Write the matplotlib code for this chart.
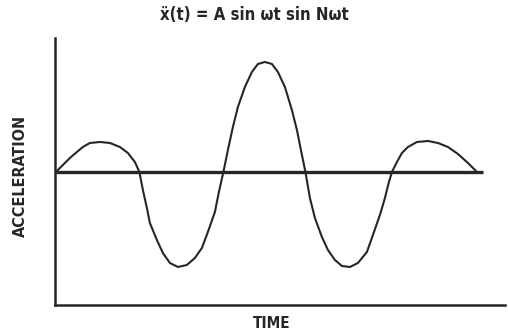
import matplotlib.pyplot as plt

# acceleration trace, time and amplitude in arbitrary units
time = [0, 7, 14, 21, 27, 34, 44, 54, 64, 72, 79, 83.5,
        87, 91, 94, 101, 107, 114, 122, 131, 139, 146, 152, 159, 163, 167.5,
        172, 177, 182, 189, 196, 202, 209, 216, 222, 229, 236, 241, 245, 249.5,
        254, 259, 266, 272, 279, 286, 294, 302, 311, 317, 324, 329, 333, 336,
        341, 346, 352, 361, 372, 382, 392, 402, 412, 421]
accel = [0, 7, 14, 20, 25, 29, 30, 29, 25, 19, 10, 0,
         -18, -36, -51, -68, -81, -91, -95, -93, -86, -76, -60, -40, -20, 0,
         22, 45, 65, 85, 100, 108, 110, 108, 100, 85, 62, 42, 22, 0,
         -26, -46, -65, -78, -88, -94, -95, -91, -80, -63, -43, -26, -10, 0,
         10, 19, 25, 30, 31, 29, 25, 18, 9, 0]
zero_end = 427

ink = '#262626'
lbl = dict(fontweight='bold', family='DejaVu Sans', fontstretch='condensed', color=ink)

fig = plt.figure(figsize=(5.08, 3.35), dpi=100)
ax = fig.add_axes([0.109, 0.0896, 0.885, 0.797])

ax.plot([0, zero_end], [0, 0], color=ink, lw=2.4, solid_capstyle='butt')
ax.plot(time, accel, color=ink, lw=1.5, solid_joinstyle='round')

ax.set_xlim(-0.5, 449)
ax.set_ylim(-133, 134)
for side in ['top', 'right']:
    ax.spines[side].set_visible(False)
for side in ['left', 'bottom']:
    ax.spines[side].set_color(ink)
    ax.spines[side].set_linewidth(1.8)
ax.set_xticks([])
ax.set_yticks([])

fig.text(0.501, 0.955, '\u1e8d(t) = A sin \u03c9t sin N\u03c9t', ha='center', va='center',
         fontsize=12, **lbl)
fig.text(0.04, 0.475, 'ACCELERATION', ha='center', va='center', rotation=90,
         fontsize=11.5, **lbl)
fig.text(0.535, 0.033, 'TIME', ha='center', va='center', fontsize=11, **lbl)

fig.savefig('out.png', dpi=100, facecolor='white')
